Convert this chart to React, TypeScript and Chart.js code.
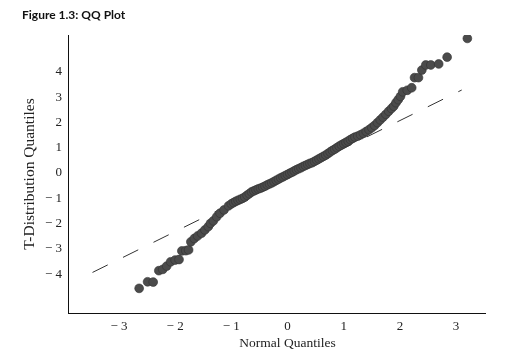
import React, { useEffect, useRef } from 'react';
import { Chart, registerables } from 'chart.js';

Chart.register(...registerables);

// Normal (theoretical) quantiles
const normalQuantiles = [
  -2.64, -2.49, -2.39, -2.29, -2.22, -2.15, -2.08, -2.0, -1.93, -1.88, -1.81, -1.76,
  -1.72, -1.66, -1.6, -1.53, -1.47, -1.41, -1.37, -1.32, -1.26, -1.2, -1.13, -1.05,
  -1.0, -0.96, -0.92, -0.88, -0.84, -0.8, -0.76, -0.72, -0.68, -0.64, -0.6, -0.56,
  -0.52, -0.48, -0.44, -0.4, -0.36, -0.32, -0.28, -0.24, -0.2, -0.16, -0.12, -0.08,
  -0.04, 0.0, 0.04, 0.08, 0.12, 0.16, 0.2, 0.24, 0.28, 0.32, 0.36, 0.4,
  0.44, 0.48, 0.52, 0.56, 0.6, 0.64, 0.68, 0.72, 0.76, 0.8, 0.84, 0.88,
  0.92, 0.96, 1.0, 1.04, 1.08, 1.12, 1.16, 1.2, 1.25, 1.3, 1.35, 1.4,
  1.45, 1.5, 1.55, 1.6, 1.65, 1.7, 1.75, 1.8, 1.85, 1.89, 1.93, 1.97,
  2.01, 2.05, 2.13, 2.21, 2.26, 2.33, 2.39, 2.46, 2.55, 2.69, 2.84, 3.2,
];

// T-distribution (sample) quantiles
const tQuantiles = [
  -4.56, -4.3, -4.31, -3.86, -3.81, -3.68, -3.51, -3.44, -3.42, -3.08, -3.07, -3.04,
  -2.72, -2.59, -2.49, -2.38, -2.25, -2.12, -1.99, -1.89, -1.73, -1.59, -1.46, -1.3,
  -1.22, -1.17, -1.12, -1.08, -1.04, -1.0, -0.95, -0.88, -0.82, -0.75, -0.71, -0.67,
  -0.63, -0.6, -0.56, -0.52, -0.47, -0.43, -0.39, -0.34, -0.29, -0.24, -0.19, -0.15,
  -0.1, -0.06, -0.01, 0.03, 0.08, 0.13, 0.17, 0.21, 0.26, 0.3, 0.34, 0.38,
  0.41, 0.46, 0.51, 0.56, 0.61, 0.66, 0.71, 0.77, 0.83, 0.89, 0.94, 1.0,
  1.06, 1.11, 1.16, 1.21, 1.26, 1.32, 1.37, 1.42, 1.46, 1.51, 1.57, 1.64,
  1.71, 1.79, 1.88, 1.99, 2.1, 2.21, 2.32, 2.44, 2.55, 2.64, 2.78, 2.9,
  3.03, 3.21, 3.27, 3.37, 3.77, 3.77, 4.07, 4.27, 4.27, 4.31, 4.58, 5.32,
];

// Reference (dashed) line end points
const refLineX = [-3.47, 3.1];
const refLineY = [-3.93, 3.28];

const xTicks = [-3, -2, -1, 0, 1, 2, 3];
const yTicks = [-4, -3, -2, -1, 0, 1, 2, 3, 4];

const titleText = 'Figure 1.3: QQ Plot';
const xTitleText = 'Normal Quantiles';
const yTitleText = 'T-Distribution Quantiles';

const SERIF = '"Liberation Serif", "DejaVu Serif", serif';

const fmt = (v: number) => (v < 0 ? '\u2212 ' + Math.abs(v) : String(v));

const xTitlePlugin = {
  id: 'xTitleAtZero',
  afterDraw(chart: any) {
    const { ctx, scales, chartArea } = chart;
    const x = scales.x;
    ctx.save();
    ctx.font = '13.5px ' + SERIF;
    ctx.fillStyle = '#222';
    ctx.textAlign = 'center';
    ctx.textBaseline = 'middle';
    ctx.fillText(xTitleText, x.getPixelForValue(0), chartArea.bottom + 30);
    ctx.restore();
  },
};

export default function App() {
  const ref = useRef<HTMLCanvasElement | null>(null);

  useEffect(() => {
    if (!ref.current) return;
    const points = normalQuantiles.map((x, i) => ({ x, y: tQuantiles[i] }));
    const line = refLineX.map((x, i) => ({ x, y: refLineY[i] }));
    const chart = new Chart(ref.current, {
      type: 'scatter',
      data: {
        datasets: [
          {
            label: 'Sample',
            data: points,
            backgroundColor: '#4b4b4b',
            borderColor: '#333333',
            borderWidth: 0.6,
            pointRadius: 4.4,
            pointHoverRadius: 4.4,
          },
          {
            label: 'Reference',
            type: 'line',
            data: line,
            showLine: true,
            borderColor: '#333333',
            borderWidth: 1,
            borderDash: [17, 17],
            pointRadius: 0,
            fill: false,
          } as any,
        ],
      },
      options: {
        animation: false,
        responsive: true,
        maintainAspectRatio: false,
        layout: { padding: { left: 22, right: 44, top: 0, bottom: 0 } },
        plugins: {
          legend: { display: false },
          tooltip: { enabled: false },
          title: {
            display: true,
            text: titleText,
            align: 'start',
            color: '#111',
            font: { family: 'Lato, "Liberation Sans", sans-serif', size: 12, weight: 'bold', lineHeight: 1.2 },
            padding: { top: 8, bottom: 12.6 },
          },
        },
        scales: {
          x: {
            type: 'linear',
            min: -3.906,
            max: 3.514,
            grid: { display: false, drawTicks: false },
            border: { display: true, color: '#111', width: 1 },
            afterBuildTicks: (s: any) => {
              s.ticks = xTicks.map((v) => ({ value: v }));
            },
            afterFit: (s: any) => {
              s.height = 42;
            },
            ticks: {
              color: '#222',
              padding: 6,
              maxRotation: 0,
              autoSkip: false,
              font: { family: SERIF, size: 13 },
              callback: (v: any) => fmt(Number(v)),
            },
          },
          y: {
            type: 'linear',
            min: -5.534,
            max: 5.455,
            grid: { display: false, drawTicks: false },
            border: { display: true, color: '#111', width: 1 },
            afterBuildTicks: (s: any) => {
              s.ticks = yTicks.map((v) => ({ value: v }));
            },
            afterFit: (s: any) => {
              s.width = 46;
            },
            ticks: {
              color: '#222',
              padding: 6,
              autoSkip: false,
              font: { family: SERIF, size: 13 },
              callback: (v: any) => fmt(Number(v)),
            },
            title: {
              display: true,
              text: yTitleText,
              color: '#222',
              font: { family: SERIF, size: 15.5, lineHeight: 1 },
              padding: { top: 0, bottom: 0 },
            },
          },
        },
      },
      plugins: [xTitlePlugin],
    });
    return () => chart.destroy();
  }, []);

  return (
    <div style={{ position: 'absolute', left: 0, top: 0, width: 529, height: 355, background: '#fff' }}>
      <canvas ref={ref} />
    </div>
  );
}
